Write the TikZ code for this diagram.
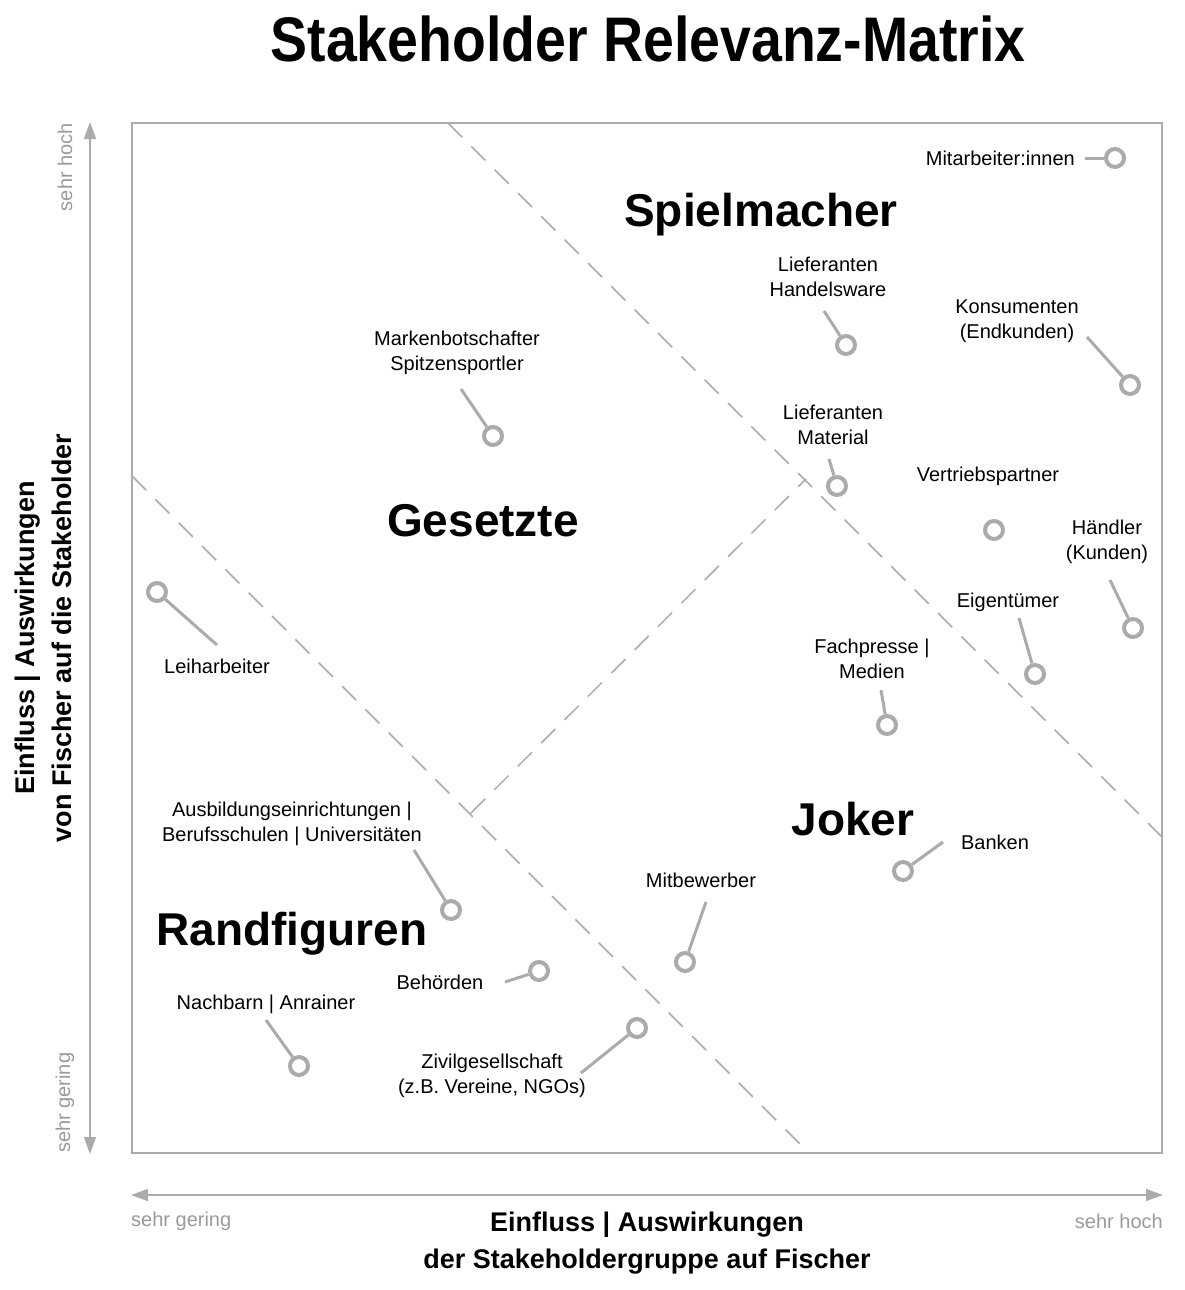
\documentclass[tikz,border=0pt]{standalone}
\usepackage{fontspec}
\setmainfont{Liberation Sans}
\newfontfamily\titlefont[FakeStretch=0.88]{Liberation Sans Bold}
\usetikzlibrary{arrows.meta}
\definecolor{linegray}{HTML}{ABABAB}
\definecolor{txtgray}{HTML}{9A9A9A}
\begin{document}
\begin{tikzpicture}[x=1pt,y=-1pt,
  frame/.style={draw=linegray,line width=1.5pt},
  divider/.style={draw=linegray,line width=1.5pt,dash pattern=on 20pt off 13pt},
  axisarrow/.style={draw=linegray,line width=1.5pt,{Triangle[length=17pt,width=12pt]}-{Triangle[length=17pt,width=12pt]}},
  dot/.style={circle,draw=linegray,line width=4pt,fill=white,minimum size=18pt,inner sep=0pt},
  leader/.style={draw=linegray,line width=3pt},
  lab/.style={align=center,inner sep=0pt,font=\fontsize{20}{25}\selectfont},
  quad/.style={anchor=base,inner sep=0pt,font=\fontsize{46}{50}\selectfont\bfseries},
  axlab/.style={align=center,inner sep=0pt,font=\fontsize{27}{37}\selectfont\bfseries},
  ends/.style={inner sep=0pt,text=txtgray,font=\fontsize{20}{24}\selectfont}]
\useasboundingbox (0,0) rectangle (1184,1290);

% title
\node[anchor=base,inner sep=0pt,font=\fontsize{63}{70}\titlefont] (title) at (648,62) {Stakeholder Relevanz-Matrix};

% frame
\draw[frame] (132,123) rectangle (1162,1153);

% dividers
\coordinate (d1a) at (448,123); \coordinate (d1b) at (1162,837);
\coordinate (d2a) at (132,476); \coordinate (d2b) at (809,1153);
\coordinate (d3a) at (471,813); \coordinate (d3b) at (806,479);
\draw[divider] (d1a) -- (d1b);
\draw[divider] (d2a) -- (d2b);
\draw[divider] (d3a) -- (d3b);

% axes
\coordinate (yt) at (90,122); \coordinate (yb) at (90,1154);
\coordinate (xl) at (131,1195); \coordinate (xr) at (1163,1195);
\draw[axisarrow] (yb) -- (yt);
\draw[axisarrow] (xl) -- (xr);

\node[ends,rotate=90,anchor=east] (yhoch) at (65,123) {sehr hoch};
\node[ends,rotate=90,anchor=west] (ygering) at (65,1153) {sehr gering};
\node[ends,anchor=west] (xgering) at (131,1221) {sehr gering};
\node[ends,anchor=east] (xhoch) at (1163,1221) {sehr hoch};

\node[axlab] (xlabel) at (647,1243) {Einfluss | Auswirkungen\\der Stakeholdergruppe auf Fischer};
\node[axlab,rotate=90] (ylabel) at (43,638) {Einfluss | Auswirkungen\\von Fischer auf die Stakeholder};

% quadrant names
\node[quad] (q1) at (761,226) {Spielmacher};
\node[quad] (q2) at (483,536) {Gesetzte};
\node[quad] (q3) at (853,835) {Joker};
\node[quad] (q4) at (292,945) {Randfiguren};

% stakeholders
\node[lab,anchor=east] (l1) at (1075,158) {Mitarbeiter:innen};
\node[dot] (c1) at (1115,158) {};
\coordinate (s1) at (1085,158);
\draw[leader] (s1) -- (c1);

\node[lab] (l2) at (828,277) {Lieferanten\\Handelsware};
\node[dot] (c2) at (846,345) {};
\coordinate (s2) at (824,311);
\draw[leader] (s2) -- (c2);

\node[lab] (l3) at (1017,321) {Konsumenten\\(Endkunden)};
\node[dot] (c3) at (1130,385) {};
\coordinate (s3) at (1087,337);
\draw[leader] (s3) -- (c3);

\node[lab] (l4) at (457,353) {Markenbotschafter\\Spitzensportler};
\node[dot] (c4) at (493,436) {};
\coordinate (s4) at (461,389);
\draw[leader] (s4) -- (c4);

\node[lab] (l5) at (833,425) {Lieferanten\\Material};
\node[dot] (c5) at (837,486) {};
\coordinate (s5) at (829,459);
\draw[leader] (s5) -- (c5);

\node[lab] (l6) at (988,476) {Vertriebspartner};
\node[dot] (c6) at (994,530) {};

\node[lab] (l7) at (1107,542) {Händler\\(Kunden)};
\node[dot] (c7) at (1133,628) {};
\coordinate (s7) at (1110,580);
\draw[leader] (s7) -- (c7);

\node[lab] (l8) at (217,666) {Leiharbeiter};
\node[dot] (c8) at (157,592) {};
\coordinate (s8) at (217,645);
\draw[leader] (s8) -- (c8);

\node[lab] (l9) at (1008,602) {Eigentümer};
\node[dot] (c9) at (1035,674) {};
\coordinate (s9) at (1019,618);
\draw[leader] (s9) -- (c9);

\node[lab] (l10) at (872,659) {Fachpresse |\\Medien};
\node[dot] (c10) at (887,725) {};
\coordinate (s10) at (881,690);
\draw[leader] (s10) -- (c10);

\node[lab] (l11) at (292,824) {Ausbildungseinrichtungen |\\Berufsschulen | Universitäten};
\node[dot] (c11) at (451,910) {};
\coordinate (s11) at (414,850);
\draw[leader] (s11) -- (c11);

\node[lab] (l12) at (995,842) {Banken};
\node[dot] (c12) at (903,871) {};
\coordinate (s12) at (943,842);
\draw[leader] (s12) -- (c12);

\node[lab] (l13) at (701,880) {Mitbewerber};
\node[dot] (c13) at (685,962) {};
\coordinate (s13) at (706,902);
\draw[leader] (s13) -- (c13);

\node[lab] (l14) at (440,982) {Behörden};
\node[dot] (c14) at (539,971) {};
\coordinate (s14) at (505,982);
\draw[leader] (s14) -- (c14);

\node[lab] (l15) at (266,1004) {Nachbarn | Anrainer};
\node[dot] (c15) at (299,1066) {};
\coordinate (s15) at (266,1020);
\draw[leader] (s15) -- (c15);

\node[lab] (l16) at (492,1076) {Zivilgesellschaft\\(z.B. Vereine, NGOs)};
\node[dot] (c16) at (637,1028) {};
\coordinate (s16) at (581,1073);
\draw[leader] (s16) -- (c16);
\end{tikzpicture}
\end{document}
